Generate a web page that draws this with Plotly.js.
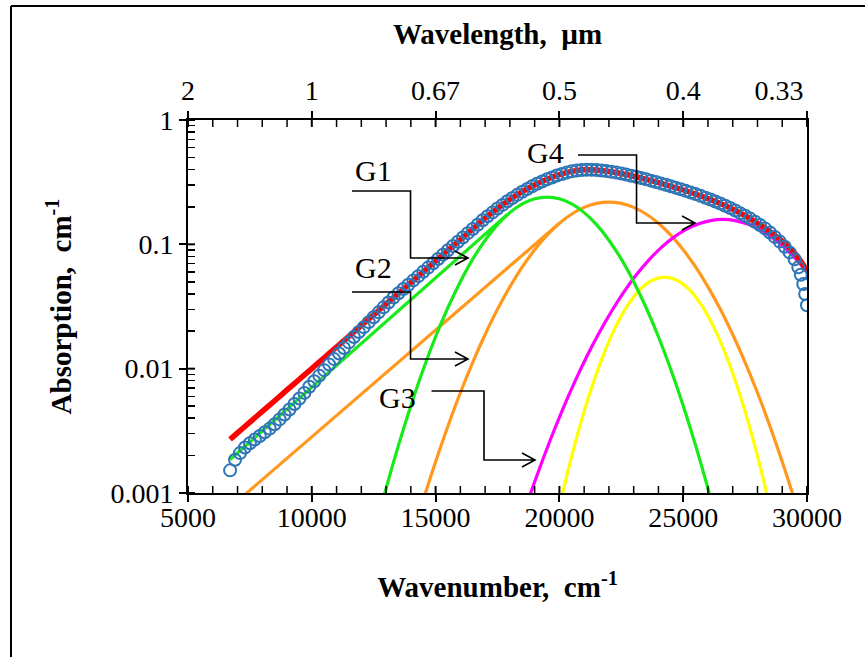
<!DOCTYPE html>
<html>
<head>
<meta charset="utf-8">
<script src="https://cdn.plot.ly/plotly-3.0.1.min.js"></script>
<style>
html,body{margin:0;padding:0;background:#fff;}
#chart{width:865px;height:657px;}
</style>
</head>
<body>
<div id="chart"></div>
<script>
// ---- tick positions and labels ----
const xTickVals = [5000, 10000, 15000, 20000, 25000, 30000];
const xTickText = ['5000', '10000', '15000', '20000', '25000', '30000'];
const xMinorVals = [6000, 7000, 8000, 9000, 11000, 12000, 13000, 14000, 16000, 17000,
  18000, 19000, 21000, 22000, 23000, 24000, 26000, 27000, 28000, 29000];
// last label sits left of its tick in the original, hence the trailing no-break spaces
const wavelengthText = ['2', '1', '0.67', '0.5', '0.4', '0.33\u00A0\u00A0\u00A0\u00A0\u00A0\u00A0\u00A0\u00A0'];
const yTickVals = [0.001, 0.01, 0.1, 1];
const yTickText = ['0.001', '0.01', '0.1', '1'];

// ---- measured absorption (open circles) ----
const measX = [6700, 6900, 7100, 7300, 7500, 7700, 7900, 8100, 8300, 8500,
  8700, 8900, 9100, 9300, 9500, 9700, 9900, 10100, 10300, 10500,
  10700, 10900, 11100, 11300, 11500, 11700, 11900, 12100, 12300, 12500,
  12700, 12900, 13100, 13300, 13500, 13700, 13900, 14100, 14300, 14500,
  14700, 14900, 15100, 15300, 15500, 15700, 15900, 16100, 16300, 16500,
  16700, 16900, 17100, 17300, 17500, 17700, 17900, 18100, 18300, 18500,
  18700, 18900, 19100, 19300, 19500, 19700, 19900, 20100, 20300, 20500,
  20700, 20900, 21100, 21300, 21500, 21700, 21900, 22100, 22300, 22500,
  22700, 22900, 23100, 23300, 23500, 23700, 23900, 24100, 24300, 24500,
  24700, 24900, 25100, 25300, 25500, 25700, 25900, 26100, 26300, 26500,
  26700, 26900, 27100, 27300, 27500, 27700, 27900, 28100, 28300, 28500,
  28700, 28900, 29100, 29300, 29500, 29650, 29750, 29850, 29925, 30000];
const measY = [0.001521, 0.001849, 0.002094, 0.002323, 0.002512, 0.002692, 0.002877, 0.003083, 0.003296, 0.003573,
  0.003908, 0.004285, 0.004688, 0.005200, 0.005754, 0.006383, 0.007161, 0.007925, 0.008790, 0.009727,
  0.01079, 0.01194, 0.01324, 0.01466, 0.01626, 0.01799, 0.01972, 0.02158, 0.02366, 0.02594,
  0.02838, 0.03112, 0.03404, 0.03733, 0.04036, 0.04375, 0.04732, 0.05129, 0.05546, 0.06012,
  0.06501, 0.07047, 0.07621, 0.08260, 0.08954, 0.09683, 0.1050, 0.1135, 0.1230, 0.1330,
  0.1439, 0.1560, 0.1683, 0.1807, 0.1941, 0.2075, 0.2218, 0.2360, 0.2500, 0.2649,
  0.2786, 0.2931, 0.3069, 0.3199, 0.3334, 0.3451, 0.3573, 0.3681, 0.3776, 0.3864,
  0.3917, 0.3963, 0.3981, 0.3981, 0.3963, 0.3926, 0.3882, 0.3828, 0.3776, 0.3715,
  0.3639, 0.3565, 0.3491, 0.3412, 0.3334, 0.3251, 0.3170, 0.3090, 0.3013, 0.2931,
  0.2851, 0.2773, 0.2692, 0.2612, 0.2535, 0.2455, 0.2371, 0.2291, 0.2208, 0.2128,
  0.2042, 0.1959, 0.1871, 0.1782, 0.1698, 0.1611, 0.1521, 0.1432, 0.1343, 0.1245,
  0.1148, 0.1052, 0.09550, 0.08610, 0.07586, 0.06531, 0.05689, 0.04786, 0.03981, 0.03236];

// ---- total fit (red) ----
const fitX = [6700, 7000, 7500, 8000, 8500, 9000, 9500, 10000, 10500, 11000,
  11500, 12000, 12500, 13000, 13500, 14000, 14500, 15000, 15500, 16000,
  16500, 17000, 17500, 18000, 18500, 19000, 19500, 20000, 20500, 21000,
  21500, 22000, 22500, 23000, 23500, 24000, 24500, 25000, 25500, 26000,
  26500, 27000, 27500, 28000, 28500, 29000, 29500, 30000];
const fitY = [0.002704, 0.003041, 0.003715, 0.004529, 0.005521, 0.006745, 0.008222, 0.01002, 0.01225, 0.01493,
  0.01820, 0.02223, 0.02710, 0.03311, 0.04036, 0.04920, 0.06012, 0.07328, 0.08954, 0.1091,
  0.1330, 0.1622, 0.1941, 0.2291, 0.2649, 0.2999, 0.3334, 0.3631, 0.3864, 0.3981,
  0.3963, 0.3855, 0.3715, 0.3532, 0.3334, 0.3133, 0.2931, 0.2735, 0.2535, 0.2333,
  0.2128, 0.1914, 0.1698, 0.1479, 0.1265, 0.1059, 0.08511, 0.06166];

// ---- G1 (green): Gaussian band and its exponential tail ----
const g1X = [12500, 13000, 13500, 14000, 14500, 15000, 15500, 16000, 16500, 17000,
  17500, 18000, 18500, 19000, 19500, 20000, 20500, 21000, 21500, 22000,
  22500, 23000, 23500, 24000, 24500, 25000, 25500, 26000, 26500];
const g1Y = [0.000459, 0.001087, 0.002415, 0.005035, 0.00984, 0.01807, 0.03105, 0.0501, 0.0760, 0.1079,
  0.1439, 0.1799, 0.2113, 0.2323, 0.2399, 0.2323, 0.2113, 0.1799, 0.1439, 0.1079,
  0.0760, 0.0501, 0.03105, 0.01807, 0.00984, 0.005035, 0.002415, 0.001087, 0.000459];
const g1TailX = [6700, 17900];
const g1TailY = [0.00186, 0.174];

// ---- G2 (orange): Gaussian band and its exponential tail ----
const g2X = [14000, 14500, 15000, 15500, 16000, 16500, 17000, 17500, 18000, 18500,
  19000, 19500, 20000, 20500, 21000, 21500, 22000, 22500, 23000, 23500,
  24000, 24500, 25000, 25500, 26000, 26500, 27000, 27500, 28000, 28500,
  29000, 29500, 30000];
const g2Y = [0.000409, 0.000877, 0.001786, 0.003461, 0.006397, 0.01124, 0.01881, 0.02999, 0.0455, 0.06577,
  0.09036, 0.1185, 0.1477, 0.1754, 0.1982, 0.2134, 0.2188, 0.2134, 0.1982, 0.1754,
  0.1477, 0.1185, 0.09036, 0.06577, 0.0455, 0.02999, 0.01881, 0.01124, 0.006397, 0.003461,
  0.001786, 0.000877, 0.000409];
const g2TailX = [7000, 20000];
const g2TailY = [0.000863, 0.1477];

// ---- G4 (magenta) ----
const g4X = [18100, 18600, 19100, 19600, 20100, 20600, 21100, 21600, 22100, 22600,
  23100, 23600, 24100, 24600, 25100, 25600, 26100, 26600, 27100, 27600,
  28100, 28600, 29100, 29600, 30100];
const g4Y = [0.000364, 0.000728, 0.001396, 0.00257, 0.004539, 0.007674, 0.01245, 0.01935, 0.02884, 0.04124,
  0.05656, 0.07431, 0.09376, 0.1132, 0.1312, 0.1457, 0.1552, 0.1585, 0.1552, 0.1457,
  0.1312, 0.1132, 0.09376, 0.07431, 0.05656];

// ---- G3 (yellow) ----
const g3X = [19750, 20250, 20750, 21250, 21750, 22250, 22750, 23250, 23750, 24250,
  24750, 25250, 25750, 26250, 26750, 27250, 27750, 28250, 28750];
const g3Y = [0.000462, 0.001259, 0.003044, 0.006546, 0.01251, 0.02128, 0.03213, 0.04315, 0.05143, 0.05458,
  0.05143, 0.04315, 0.03213, 0.02128, 0.01251, 0.006546, 0.003044, 0.001259, 0.000462];

// ---- band labels ----
const bandNames = ['G1', 'G2', 'G3', 'G4'];

const serif = 'Liberation Serif, Times New Roman, serif';
const GREEN = '#19EA19', ORANGE = '#FF981C', MAGENTA = '#FF00FF', YELLOW = '#FFFF00';

function line(x, y, color, width) {
  return {x: x, y: y, type: 'scatter', mode: 'lines', showlegend: false, hoverinfo: 'skip',
    line: {color: color, width: width, shape: 'spline', smoothing: 0.8}};
}

const traces = [
  line(g2TailX, g2TailY, ORANGE, 3.2),
  line(g2X, g2Y, ORANGE, 3.2),
  line(g3X, g3Y, YELLOW, 3.2),
  line(g4X, g4Y, MAGENTA, 3.2),
  line(g1X, g1Y, GREEN, 3.2),
  line(g1TailX, g1TailY, GREEN, 3.2),
  line(fitX, fitY, '#FF0000', 5.5),
  // measured points sit on the top (wavelength) axis, which has the same range
  {x: measX, y: measY, xaxis: 'x2', yaxis: 'y', type: 'scatter', mode: 'markers', showlegend: false, hoverinfo: 'skip',
    marker: {symbol: 'circle-open', size: 12, color: '#2E75B6', line: {width: 2, color: '#2E75B6'}}}
];

// plot area in pixels: x 188..807, y 120..493
const L = 188, R = 807, T = 120, B = 493;
const px = X => (X - L) / (R - L);
const py = Y => (B - Y) / (B - T);
const TL = 7; // tick length px

function connector(pts, tip) {
  let d = 'M' + pts.map(p => px(p[0]).toFixed(4) + ',' + py(p[1]).toFixed(4)).join(' L');
  const [tx, ty] = tip;
  d += ' M' + px(tx - 13).toFixed(4) + ',' + py(ty - 7).toFixed(4) +
       ' L' + px(tx).toFixed(4) + ',' + py(ty).toFixed(4) +
       ' L' + px(tx - 13).toFixed(4) + ',' + py(ty + 7).toFixed(4);
  return {type: 'path', xref: 'paper', yref: 'paper', path: d, line: {color: '#000', width: 1.6}};
}

const shapes = [
  connector([[352, 191], [410.5, 191], [410.5, 258], [468, 258]], [468, 258]),
  connector([[352, 292], [410.5, 292], [410.5, 359], [468, 359]], [468, 359]),
  connector([[431.5, 391], [484, 391], [484, 460], [535, 460]], [535, 460]),
  connector([[578, 155], [636.5, 155], [636.5, 223], [695, 223]], [695, 223]),
  // frame of the picture (top and left edges)
  {type: 'line', xref: 'paper', yref: 'paper', x0: px(11), y0: py(6), x1: px(866), y1: py(6), line: {color: '#000', width: 2}},
  {type: 'line', xref: 'paper', yref: 'paper', x0: px(11), y0: py(6), x1: px(11), y1: py(660), line: {color: '#000', width: 2}}
];
// inward halves of the major ticks and inward minor ticks on the x axes
const tly = TL / (B - T), tlx = TL / (R - L);
xTickVals.forEach(v => {
  shapes.push({type: 'line', xref: 'x', yref: 'paper', x0: v, x1: v, y0: 0, y1: tly, line: {color: '#000', width: 2}});
  shapes.push({type: 'line', xref: 'x', yref: 'paper', x0: v, x1: v, y0: 1, y1: 1 - tly, line: {color: '#000', width: 2}});
});
xMinorVals.forEach(v => {
  shapes.push({type: 'line', xref: 'x', yref: 'paper', x0: v, x1: v, y0: 0, y1: tly, line: {color: '#000', width: 1.5}});
  shapes.push({type: 'line', xref: 'x', yref: 'paper', x0: v, x1: v, y0: 1, y1: 1 - tly, line: {color: '#000', width: 1.5}});
});
yTickVals.forEach(v => {
  const yp = (Math.log10(v) + 3) / 3;
  shapes.push({type: 'line', xref: 'paper', yref: 'paper', x0: 0, x1: tlx, y0: yp, y1: yp, line: {color: '#000', width: 2}});
});

const labelPos = [[373.5, 170], [373.5, 267], [397, 397], [545, 153]];
const annotations = bandNames.map((t, i) => ({
  text: t, xref: 'paper', yref: 'paper', x: px(labelPos[i][0]), y: py(labelPos[i][1]),
  xanchor: 'center', yanchor: 'middle', showarrow: false,
  font: {family: serif, size: 30, color: '#000'}
}));

const tickFont = {family: serif, size: 28, color: '#000'};
const titleFont = {family: serif, size: 29, color: '#000'};

const layout = {
  width: 865, height: 657,
  margin: {l: L, r: 865 - R, t: T, b: 657 - B, pad: 0},
  paper_bgcolor: '#fff', plot_bgcolor: '#fff',
  showlegend: false,
  xaxis: {
    range: [5000, 30000], side: 'bottom', anchor: 'y',
    tickmode: 'array', tickvals: xTickVals, ticktext: xTickText,
    ticks: 'outside', ticklen: TL, tickwidth: 2, tickcolor: '#000', ticklabelstandoff: -9,
    showline: true, linewidth: 2, linecolor: '#000', showgrid: false, zeroline: false,
    tickfont: tickFont, automargin: false,
    title: {text: '<b>Wavenumber,\u00A0 cm<sup>-1</sup></b>', font: titleFont, standoff: 45}
  },
  xaxis2: {
    range: [5000, 30000], side: 'top', overlaying: 'x', anchor: 'y',
    tickmode: 'array', tickvals: xTickVals, ticktext: wavelengthText,
    ticks: 'outside', ticklen: TL, tickwidth: 2, tickcolor: '#000',
    showline: true, linewidth: 2, linecolor: '#000', showgrid: false, zeroline: false,
    tickfont: tickFont, automargin: false,
    title: {text: '<b>Wavelength,\u00A0 \u00B5m</b>', font: titleFont, standoff: 22}
  },
  yaxis: {
    type: 'log', range: [-3, 0], side: 'left', anchor: 'x',
    tickmode: 'array', tickvals: yTickVals, ticktext: yTickText,
    ticks: 'outside', ticklen: TL, tickwidth: 2, tickcolor: '#000',
    showline: true, mirror: true, linewidth: 2, linecolor: '#000', showgrid: false, zeroline: false,
    tickfont: tickFont, automargin: false,
    minor: {ticks: 'inside', dtick: 'D1', ticklen: TL, tickwidth: 1.5, tickcolor: '#000', showgrid: false},
    title: {text: '<b>Absorption,\u00A0 cm<sup>-1</sup></b>', font: titleFont, standoff: 30}
  },
  shapes: shapes,
  annotations: annotations
};

Plotly.newPlot('chart', traces, layout, {displayModeBar: false, staticPlot: true});
</script>
</body>
</html>
